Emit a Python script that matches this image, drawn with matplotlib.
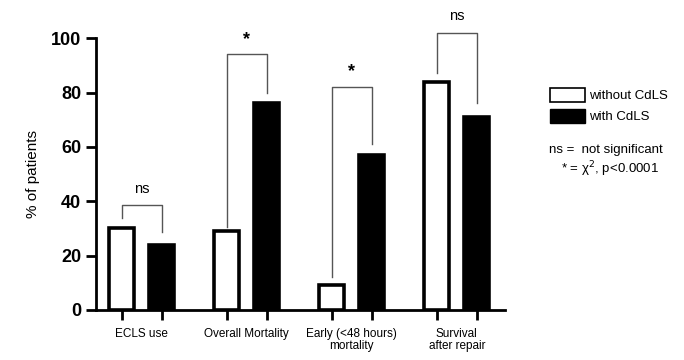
import numpy as np
import matplotlib
matplotlib.use("Agg")
import matplotlib.pyplot as plt
from matplotlib.patches import Patch

plt.rcParams.update({
    "font.family": ["Liberation Sans", "DejaVu Sans"],
    "font.size": 9,
})

categories = ["ECLS use", "Overall Mortality", "Early (<48 hours)\nmortality", "Survival\nafter repair"]
without_cdls = [30, 29, 9, 84]
with_cdls = [24, 76, 57, 71]
sig_labels = ["ns", "*", "*", "ns"]
# bracket: (top, left end, right end)
brackets = [(38.5, 34, 28.5), (94, 30.5, 80), (82, 12, 61), (102, 87, 76)]

x = np.arange(len(categories))
off = 0.19
w = 0.24

fig = plt.figure(figsize=(6.84, 3.6), dpi=100)
ax = fig.add_axes([0.140, 0.139, 0.598, 0.755])

ax.bar(x - off, without_cdls, w, color="white", edgecolor="black", linewidth=2.6,
       label="without CdLS", zorder=3)
ax.bar(x + off, with_cdls, w, color="black", edgecolor="black", linewidth=2.6,
       label="with CdLS", zorder=3)

for i, (top, l, r) in enumerate(brackets):
    ax.plot([x[i] - off, x[i] - off, x[i] + off, x[i] + off], [l, top, top, r],
            color="#555555", lw=1.0, clip_on=False)
    if sig_labels[i] == "*":
        ax.text(x[i], top + 2.5, "*", ha="center", va="bottom", fontsize=13,
                fontweight="bold", clip_on=False)
    else:
        ax.text(x[i], top + 3.5, "ns", ha="center", va="bottom", fontsize=10.5,
                clip_on=False)

ax.set_xlim(-0.438, 3.457)
ax.set_ylim(0, 100)
ax.set_yticks([0, 20, 40, 60, 80, 100])
ax.set_xticks(np.concatenate([x - off, x + off]))
ax.set_xticklabels([])
for i, c in enumerate(categories):
    ax.text(x[i], -6.5, c, ha="center", va="top", fontsize=8.5, linespacing=1.0)

ax.tick_params(axis="y", labelsize=13, width=2, length=7)
ax.tick_params(axis="x", width=2, length=7)
for lab in ax.get_yticklabels():
    lab.set_fontweight("bold")
ax.spines["top"].set_visible(False)
ax.spines["right"].set_visible(False)
ax.spines["left"].set_linewidth(2)
ax.spines["bottom"].set_linewidth(2)
ax.set_ylabel("% of patients", fontsize=11, labelpad=8)

handles = [Patch(facecolor="white", edgecolor="black", linewidth=1.2, label="without CdLS"),
           Patch(facecolor="black", edgecolor="black", label="with CdLS")]
fig.legend(handles=handles, loc="upper left", bbox_to_anchor=(0.795, 0.775),
           frameon=False, fontsize=9.5, handlelength=2.6, handleheight=1.3,
           handletextpad=0.3, labelspacing=0.5, borderpad=0)
fig.text(0.803, 0.583, "ns =  not significant", fontsize=9.5, va="center")
fig.text(0.820, 0.530, "* = χ$^{2}$, p<0.0001", fontsize=9.5, va="center")

fig.savefig("out.png", dpi=100)
